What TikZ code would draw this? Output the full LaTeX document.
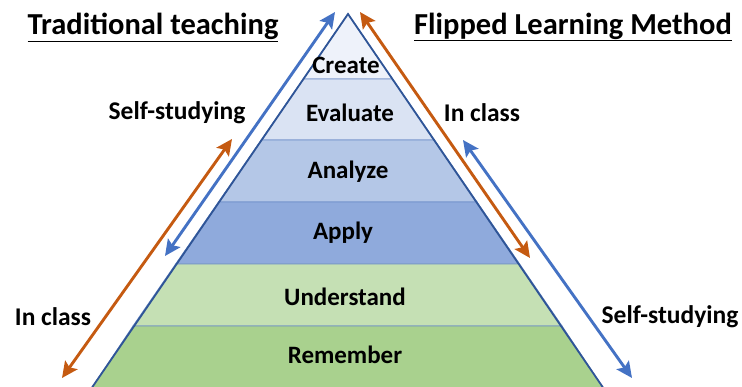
\documentclass[tikz,border=0pt]{standalone}
\usepackage{fontspec}
\setmainfont{Carlito}
\usetikzlibrary{arrows.meta}
\definecolor{edgeblue}{HTML}{2F5597}
\definecolor{sepblue}{HTML}{6F8FC9}
\definecolor{arrblue}{HTML}{4472C4}
\definecolor{arrorange}{HTML}{C55A11}
\definecolor{cCreate}{HTML}{EEF2FA}
\definecolor{cEval}{HTML}{DAE3F3}
\definecolor{cAnal}{HTML}{B4C7E7}
\definecolor{cApply}{HTML}{8FAADC}
\definecolor{cUnder}{HTML}{C5E0B4}
\definecolor{cRem}{HTML}{A9D18E}
\tikzset{
  layer/.style={draw=sepblue, line width=0.9pt},
  lbl/.style={font=\bfseries\fontsize{25}{27}\selectfont, inner sep=0pt},
  side/.style={font=\bfseries\fontsize{25.5}{27}\selectfont, inner sep=0pt},
  title/.style={font=\bfseries\fontsize{30.5}{32}\selectfont, inner sep=0pt},
  barr/.style={draw=arrblue, line width=2.9pt, {Stealth[length=16pt,width=15pt,inset=3pt]}-{Stealth[length=16pt,width=15pt,inset=3pt]}},
  oarr/.style={draw=arrorange, line width=2.9pt, {Stealth[length=16pt,width=15pt,inset=3pt]}-{Stealth[length=16pt,width=15pt,inset=3pt]}}
}
\begin{document}
\begin{tikzpicture}[x=1pt,y=-1pt]
\useasboundingbox (0,0) rectangle (742,387);
% pyramid corners
\coordinate (apex) at (348,14);
\coordinate (bl) at (91,389);
\coordinate (br) at (604,389);
% layer boundaries
\coordinate (l1) at (303.2,79);  \coordinate (r1) at (392.6,79);
\coordinate (l2) at (261.2,140); \coordinate (r2) at (434.5,140);
\coordinate (l3) at (218.5,202); \coordinate (r3) at (477.0,202);
\coordinate (l4) at (175.7,264); \coordinate (r4) at (519.6,264);
\coordinate (l5) at (133.0,326); \coordinate (r5) at (562.0,326);
\filldraw[layer, fill=cCreate] (apex) -- (r1) -- (l1) -- cycle;
\filldraw[layer, fill=cEval] (l1) -- (r1) -- (r2) -- (l2) -- cycle;
\filldraw[layer, fill=cAnal] (l2) -- (r2) -- (r3) -- (l3) -- cycle;
\filldraw[layer, fill=cApply] (l3) -- (r3) -- (r4) -- (l4) -- cycle;
\filldraw[layer, fill=cUnder] (l4) -- (r4) -- (r5) -- (l5) -- cycle;
\filldraw[layer, fill=cRem] (l5) -- (r5) -- (br) -- (bl) -- cycle;
\draw[edgeblue, line width=1.8pt, line join=miter] (bl) -- (apex) -- (br);
% layer labels
\node[lbl] (create) at (346,65) {Create};
\node[lbl] (evaluate) at (350,113) {Evaluate};
\node[lbl] (analyze) at (348,172) {Analyze};
\node[lbl] (apply) at (343,233) {Apply};
\node[lbl] (understand) at (345,297) {Understand};
\node[lbl] (remember) at (345,355) {Remember};
% titles
\node[title] (trad) at (153,27) {\underline{Traditional teaching}};
\node[title] (flip) at (573,27) {\underline{Flipped Learning Method}};
% side labels
\node[side] (ssl) at (177,113) {Self-studying};
\node[side] (icr) at (482,113) {In class};
\node[side] (icl) at (53,317) {In class};
\node[side] (ssr) at (670,317) {Self-studying};
% arrow end points
\coordinate (lbt) at (335,12);  \coordinate (lbb) at (165,256);
\coordinate (lot) at (232,139); \coordinate (lob) at (62,378);
\coordinate (rot) at (360,12);  \coordinate (rob) at (530,258);
\coordinate (rbt) at (463,140); \coordinate (rbb) at (632,378);
\draw[barr] (lbb) -- (lbt);
\draw[oarr] (lob) -- (lot);
\draw[oarr] (rot) -- (rob);
\draw[barr] (rbt) -- (rbb);
\end{tikzpicture}
\end{document}
